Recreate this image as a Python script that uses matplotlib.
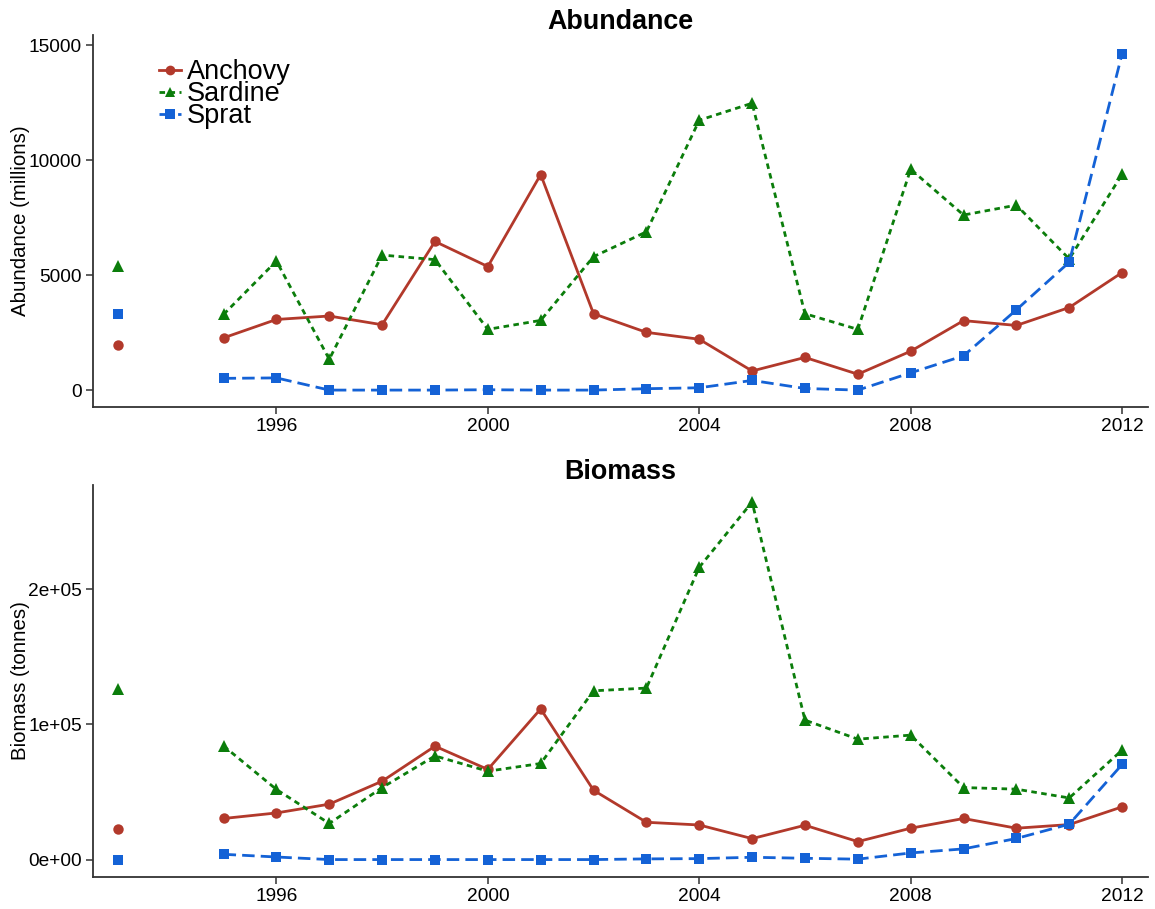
import numpy as np
import matplotlib
matplotlib.use("Agg")
import matplotlib.pyplot as plt
from matplotlib.lines import Line2D

plt.rcParams["font.family"] = ["Liberation Sans", "DejaVu Sans"]

# Survey years (1994 missing, so 1993 stands alone)
years = [1993, 1995, 1996, 1997, 1998, 1999, 2000, 2001, 2002, 2003,
         2004, 2005, 2006, 2007, 2008, 2009, 2010, 2011, 2012]

# Abundance (millions)
anchovy_abund = [1950, 2270, 3070, 3220, 2840, 6460, 5370, 9370, 3320, 2510,
                 2210, 830, 1420, 690, 1690, 3020, 2810, 3590, 5110]
sardine_abund = [5410, 3290, 5610, 1340, 5870, 5670, 2640, 3030, 5800, 6880,
                 11730, 12470, 3320, 2640, 9600, 7610, 8040, 5700, 9380]
sprat_abund = [3320, 510, 530, 0, 0, 0, 15, 0, 0, 60,
               100, 420, 70, 0, 750, 1490, 3490, 5560, 14620]

# Biomass (tonnes)
anchovy_biom = [22400, 30400, 34500, 41000, 58000, 83900, 66700, 111500, 51300, 27600,
                25600, 15500, 25400, 13300, 23200, 30400, 23200, 25900, 39000]
sardine_biom = [126100, 84100, 51900, 26700, 53300, 76700, 65400, 71100, 124900, 126900,
                216300, 264600, 103200, 89100, 92100, 53300, 52100, 45600, 81000]
sprat_biom = [0, 3900, 1900, 0, 0, 0, 0, 0, 0, 500,
              700, 1700, 960, 300, 4900, 7900, 15600, 26200, 70400]

species = ["Anchovy", "Sardine", "Sprat"]
colors = {"Anchovy": "#B2392B", "Sardine": "#0B7D0B", "Sprat": "#1462D6"}
markers = {"Anchovy": "o", "Sardine": "^", "Sprat": "s"}
dashes = {"Anchovy": None, "Sardine": (2.0, 1.6), "Sprat": (4.5, 2.2)}
msize = {"Anchovy": 7.5, "Sardine": 8.5, "Sprat": 7.5}

W, H = 1155, 909
fig = plt.figure(figsize=(W / 100, H / 100), dpi=100)


def axes_box(left, top, right, bottom):
    return [left / W, 1 - bottom / H, (right - left) / W, (bottom - top) / H]


ax1 = fig.add_axes(axes_box(93, 35, 1148, 407))
ax2 = fig.add_axes(axes_box(93, 485, 1148, 877))


def line_style(name):
    return "-" if dashes[name] is None else (0, dashes[name])


def draw_series(ax, x, y, name):
    x = np.asarray(x, dtype=float)
    y = np.asarray(y, dtype=float)
    c = colors[name]
    # break the line across the missing 1994 survey
    seg = x >= 1995
    ax.plot(x[seg], y[seg], color=c, lw=2.0, linestyle=line_style(name),
            marker=markers[name], markersize=msize[name],
            markeredgewidth=0, zorder=3)
    ax.plot(x[~seg], y[~seg], color=c, lw=0, marker=markers[name],
            markersize=msize[name], markeredgewidth=0, zorder=3)


for name, vals in zip(species, [anchovy_abund, sardine_abund, sprat_abund]):
    draw_series(ax1, years, vals, name)
for name, vals in zip(species, [anchovy_biom, sardine_biom, sprat_biom]):
    draw_series(ax2, years, vals, name)

xticks = [1996, 2000, 2004, 2008, 2012]
for ax in (ax1, ax2):
    ax.set_xlim(1992.53, 2012.49)
    ax.set_xticks(xticks)
    ax.set_xticklabels([str(t) for t in xticks])
    for s in ("top", "right"):
        ax.spines[s].set_visible(False)
    for s in ("left", "bottom"):
        ax.spines[s].set_color("#333333")
        ax.spines[s].set_linewidth(1.3)
    ax.tick_params(axis="both", direction="out", length=5, width=1.1,
                   color="#333333", labelsize=13.8, labelcolor="black", pad=3)

ax1.set_ylim(-735, 15435)
ax1.set_yticks([0, 5000, 10000, 15000])
ax1.set_yticklabels(["0", "5000", "10000", "15000"])
ax1.set_ylabel("Abundance (millions)", fontsize=14.7, labelpad=-1)
ax1.set_title("Abundance", fontsize=19.4, fontweight="bold", pad=2)

ax2.set_ylim(-12900, 277200)
ax2.set_yticks([0, 100000, 200000])
ax2.set_yticklabels(["0e+00", "1e+05", "2e+05"])
ax2.set_ylabel("Biomass (tonnes)", fontsize=14.7, labelpad=-1)
ax2.set_title("Biomass", fontsize=19.4, fontweight="bold", pad=3)

handles = [Line2D([0], [0], color=colors[n], lw=2.0, linestyle=line_style(n),
                  marker=markers[n], markersize=7, markeredgewidth=0)
           for n in species]
leg = ax1.legend(handles, species, loc="upper left", bbox_to_anchor=(0.063, 0.935),
                 frameon=False, fontsize=19.5, handlelength=0.8, handletextpad=0.22,
                 labelspacing=-0.15, borderaxespad=0, borderpad=0)

fig.savefig("out.png", dpi=100, facecolor="white")
